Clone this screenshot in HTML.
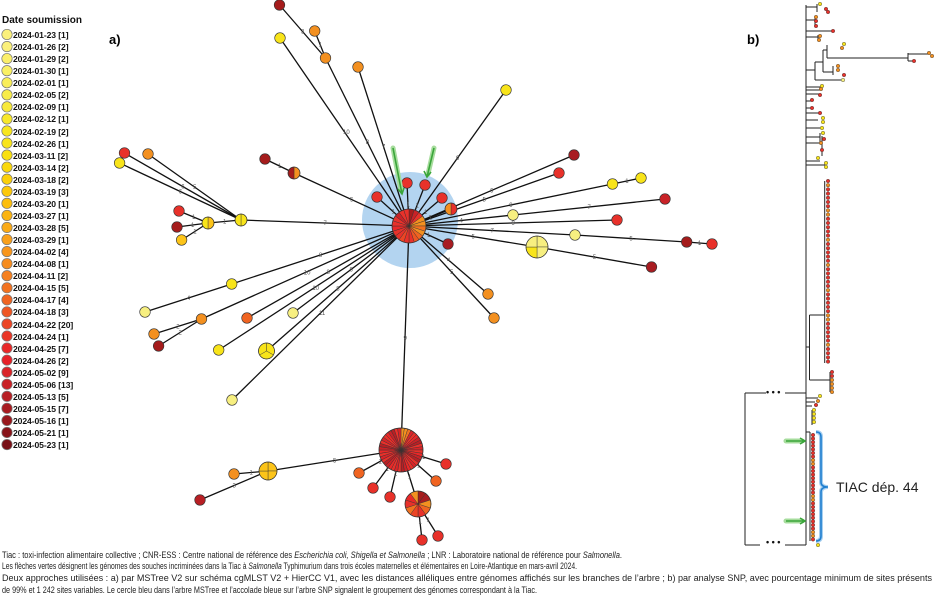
<!DOCTYPE html>
<html><head><meta charset="utf-8">
<style>
html,body{margin:0;padding:0;background:#fff;}
body{width:934px;height:602px;overflow:hidden;position:relative;font-family:"Liberation Sans",sans-serif;}
svg{position:absolute;left:0;top:0;}
.cap{font-size:9.6px;fill:#222;}
.el{font-size:6px;fill:#555;}
</style></head><body>
<svg id="s" width="934" height="602" viewBox="0 0 934 602" xmlns="http://www.w3.org/2000/svg">
<text x="2" y="23" style="font-size:10px;font-weight:bold" fill="#111">Date soumission</text>
<g id="leg"></g>
<text x="109" y="44" style="font-size:13px;font-weight:bold">a)</text>
<text x="747" y="44" style="font-size:13px;font-weight:bold">b)</text>
<circle cx="410" cy="220" r="48" fill="#b3d4f0"/>
<g id="edges" stroke="#111" stroke-width="1.3"></g>
<g id="labels"></g>
<g id="nodes" stroke="#333" stroke-width="0.6"></g>
<g id="tree" stroke="#222" stroke-width="1" fill="none"></g>
<g id="tdots" stroke="#333" stroke-width="0.4"></g>
<text x="766" y="395" style="font-size:9px;font-weight:bold" fill="#111">• • •</text>
<text x="766" y="545" style="font-size:9px;font-weight:bold" fill="#111">• • •</text>
<path d="M816 432 Q821 432 821 437 L821 482 Q821 487 828 487 Q821 487 821 492 L821 536 Q821 541 816 541" stroke="#a8d0f0" stroke-width="4" fill="none"/>
<path d="M816 432 Q821 432 821 437 L821 482 Q821 487 828 487 Q821 487 821 492 L821 536 Q821 541 816 541" stroke="#1f7fd0" stroke-width="1.6" fill="none"/>
<text x="836" y="492" style="font-size:14px" fill="#222">TIAC dép. 44</text>
<g stroke="#a6dc9c" stroke-width="5" stroke-linecap="round" fill="none">
<line x1="786" y1="441" x2="802" y2="441"/><line x1="786" y1="521" x2="802" y2="521"/>
<line x1="393" y1="148" x2="401" y2="190"/><line x1="434" y1="148" x2="428" y2="174"/>
</g>
<g stroke="#3aa53a" stroke-width="1.6" fill="none">
<path d="M786 441 L805 441 M800 438 L805 441 L800 444"/>
<path d="M786 521 L805 521 M800 518 L805 521 L800 524"/>
<path d="M393 148 L402 194 M398 189 L402 194 L404 188"/>
<path d="M434 148 L427 177 M424 171 L427 177 L431 172"/>
</g>
<text class="cap" x="2" y="558" textLength="620" lengthAdjust="spacingAndGlyphs">Tiac : toxi-infection alimentaire collective ; CNR-ESS : Centre national de référence des <tspan font-style="italic">Escherichia coli, Shigella et Salmonella</tspan> ; LNR : Laboratoire national de référence pour <tspan font-style="italic">Salmonella</tspan>.</text>
<text class="cap" x="2" y="569" textLength="575" lengthAdjust="spacingAndGlyphs">Les flèches vertes désignent les génomes des souches incriminées dans la Tiac à <tspan font-style="italic">Salmonella</tspan> Typhimurium dans trois écoles maternelles et élémentaires en Loire-Atlantique en mars-avril 2024.</text>
<text class="cap" x="2" y="581" textLength="930" lengthAdjust="spacingAndGlyphs">Deux approches utilisées : a) par MSTree V2 sur schéma cgMLST V2 + HierCC V1, avec les distances alléliques entre génomes affichés sur les branches de l’arbre ; b) par analyse SNP, avec pourcentage minimum de sites présents</text>
<text class="cap" x="2" y="593" textLength="535" lengthAdjust="spacingAndGlyphs">de 99% et 1 242 sites variables. Le cercle bleu dans l’arbre MSTree et l’accolade bleue sur l’arbre SNP signalent le groupement des génomes correspondant à la Tiac.</text>
</svg>
<div style="position:absolute;left:13px;top:29px;font-size:8.6px;font-weight:bold;line-height:12.06px;color:#111;letter-spacing:-0.1px">
2024-01-23 [1]<br>2024-01-26 [2]<br>2024-01-29 [2]<br>2024-01-30 [1]<br>2024-02-01 [1]<br>2024-02-05 [2]<br>2024-02-09 [1]<br>2024-02-12 [1]<br>2024-02-19 [2]<br>2024-02-26 [1]<br>2024-03-11 [2]<br>2024-03-14 [2]<br>2024-03-18 [2]<br>2024-03-19 [3]<br>2024-03-20 [1]<br>2024-03-27 [1]<br>2024-03-28 [5]<br>2024-03-29 [1]<br>2024-04-02 [4]<br>2024-04-08 [1]<br>2024-04-11 [2]<br>2024-04-15 [5]<br>2024-04-17 [4]<br>2024-04-18 [3]<br>2024-04-22 [20]<br>2024-04-24 [1]<br>2024-04-25 [7]<br>2024-04-26 [2]<br>2024-05-02 [9]<br>2024-05-06 [13]<br>2024-05-13 [5]<br>2024-05-15 [7]<br>2024-05-16 [1]<br>2024-05-21 [1]<br>2024-05-23 [1]
</div>
<script>
const NS="http://www.w3.org/2000/svg";
function el(p,t,a){const e=document.createElementNS(NS,t);for(const k in a)e.setAttribute(k,a[k]);p.appendChild(e);return e;}
const C=["#fbf07c","#fbf07a","#fbef6a","#faf065","#f9ee5a","#f8ec4a","#f8e93a","#f8e82a","#f8e61e","#f8e41a","#f9e010","#fad80c","#fbd00a","#fcc80a","#fcbe0c","#fbb412","#faaa16","#f9a01a","#f8961c","#f68c1e","#f5801f","#f27220","#f06421","#ee5522","#ec4524","#ea3626","#e92828","#e62128","#d92328","#c92227","#b81f24","#a81c21","#98181d","#88141a","#781016"];
const leg=document.getElementById('leg');
C.forEach((c,i)=>el(leg,'circle',{cx:7,cy:34.5+i*12.06,r:5.2,fill:c,stroke:'#777','stroke-width':0.7}));
const R="#e8312a",DR="#a51c1c",O="#f39020",Y="#f8e41a",LY="#f7ef80",YO="#fcc419",RO="#f06421";
const H=[409,226],G=[401,450];
const E=[
[[325.5,58],H,8],[[279.5,5],[325.5,58],3],[[314.7,31],[325.5,58],1],[[280,38],H,10],[[358,67],H,7],[[506,90],H,9],
[[407,183],H,1],[[425,185],H,1],[[377,197],H,1],[[442,198],H,1],[[451,209],H,1],
[[294,173],H,5],[[265,159],[294,173],1],[[241,220],H,7],[[124.5,153],[241,220],6],[[148,154],[241,220],5],[[119.6,163],[241,220],6],
[[208,223],[241,220],1],[[179,211],[208,223],1],[[177,227],[208,223],1],[[181.6,240],[208,223],1],
[[574,155],H,6],[[559,173],H,5],[[612.5,184],H,9],[[641,178],[612.5,184],1],[[513,215],H,4],[[665,199],[513,215],7],
[[617,220],H,9],[[575,235],H,7],[[686.7,242],[575,235],5],[[712,244],[686.7,242],1],[[537,247],H,5],[[651.5,267],[537,247],5],[[448,244],H,1],
[[488,294],H,4],[[494,318],H,5],
[[231.7,284],H,8],[[145,312],[231.7,284],4],[[201.5,319],H,10],[[154,334],[201.5,319],2],[[158.6,346],[201.5,319],2],
[[247,318],H,8],[[293,313],H,6],[[218.7,350],H,10],[[266.5,351],H,8],[[232,400],H,11],
[G,H,9],
[[268,471],G,5],[[234,474],[268,471],1],[[200,500],[268,471],3],[[359,473],G,1],[[373,488],G,1],[[390,497],G,1],[[446,464],G,1],[[436,481],G,1],
[[418,504],G,1],[[422,540],[418,504],1],[[438,536],[418,504],1]];
const eg=document.getElementById('edges'),lb=document.getElementById('labels');
E.forEach(([a,b,l])=>{el(eg,'line',{x1:a[0],y1:a[1],x2:b[0],y2:b[1]});
 const t=el(lb,'text',{x:(a[0]+b[0])/2-1.5,y:(a[1]+b[1])/2+2,class:'el'});t.textContent=l;});
const N=[[279.5,5,DR],[314.7,31,O],[280,38,Y],[325.5,58,O],[358,67,O],[506,90,Y],
[407,183,R],[425,185,R],[377,197,R],[442,198,R],[265,159,DR],
[124.5,153,R],[148,154,O],[119.6,163,Y],[179,211,R],[177,227,DR],[181.6,240,YO],
[574,155,C[31]],[559,173,R],[612.5,184,Y],[641,178,Y],[665,199,C[29]],[513,215,LY],[617,220,R],[575,235,LY],[686.7,242,DR],[712,244,R],[651.5,267,C[31]],[448,244,C[31]],
[488,294,O],[494,318,O],[231.7,284,Y],[145,312,LY],[201.5,319,O],[154,334,O],[158.6,346,DR],[247,318,RO],[293,313,LY],[218.7,350,Y],[232,400,LY],
[234,474,O],[200,500,C[30]],[359,473,RO],[373,488,R],[390,497,R],[446,464,R],[436,481,RO],[422,540,R],[438,536,R]];
const ng=document.getElementById('nodes');
N.forEach(n=>el(ng,'circle',{cx:n[0],cy:n[1],r:5.3,fill:n[2]}));
function pie(cx,cy,r,cols){const n=cols.length;for(let i=0;i<n;i++){const a0=-Math.PI/2+i*2*Math.PI/n,a1=a0+2*Math.PI/n;
 const p=`M${cx} ${cy}L${cx+r*Math.cos(a0)} ${cy+r*Math.sin(a0)}A${r} ${r} 0 0 1 ${cx+r*Math.cos(a1)} ${cy+r*Math.sin(a1)}Z`;
 el(ng,'path',{d:p,fill:cols[i],stroke:'#333','stroke-width':0.4});}
 el(ng,'circle',{cx:cx,cy:cy,r:r,fill:'none',stroke:'#333','stroke-width':0.7});}
pie(H[0],H[1],17,[DR,C[29],R,O,O,C[21],O,C[22],C[23],R,R,C[24],R,R,C[26],R,R,C[29],R,R]);
let gc=[];for(let i=0;i<40;i++)gc.push([C[29],C[30],R,C[28],R,C[26]][i%6]);gc[0]=O;gc[1]=O;gc[2]=C[21];
pie(G[0],G[1],22,gc);
pie(418,504,13,[DR,C[31],O,C[22],R,C[24],C[21],R,C[26],O]);
pie(451,209,6,[R,O]);pie(294,173,6,[O,DR]);pie(241,220,6,[Y,Y]);pie(208,223,6,[YO,Y]);
pie(537,247,11,[LY,LY,Y,LY]);pie(266.5,351,8,[Y,Y,Y]);pie(268,471,9,[YO,YO,YO,YO]);
const tg=document.getElementById('tree');let d="";
function L(x1,y1,x2,y2){d+=`M${x1} ${y1}L${x2} ${y2}`;}
L(806,5,806,545);L(745,393,766,393);L(785,393,806,393);L(745,393,745,545);L(745,545,760,545);L(785,545,806,545);
L(806,7,817,7);L(817,4,817,12);L(806,20,815,20);L(815,17,815,26);L(806,31,833,31);L(806,37,818,37);L(818,35,818,40);
L(806,70,815,70);L(815,62,815,80);L(815,62,823,62);L(823,50,823,72);L(823,50,827,50);L(827,45,827,58);L(827,58,908,58);L(908,53,908,61);L(908,54,928,54);L(908,61,913,61);
L(823,72,833,72);L(833,66,833,75);L(815,80,843,80);L(806,87,822,87);L(806,90,821,90);L(806,94,820,94);L(806,101,812,101);L(806,108,812,108);L(806,113,820,113);
L(806,120,818,120);L(806,128,823,128);L(806,137,820,137);L(820,133,820,143);L(806,143,822,143);L(822,136,822,156);L(806,161,820,161);L(806,165,825,165);
L(806,347,809.5,347);L(809.5,315,809.5,380);L(809.5,315,824.7,315);L(824.7,181,824.7,363);L(809.5,380,830,380);L(830,372,830,392);
L(806,398,818,398);L(806,402,815,402);L(806,406,812,406);L(812,410,812,425);L(806,432,810,432);L(810,432,810,541);
el(tg,'path',{d:d});
const td=document.getElementById('tdots');
function dot(x,y,c){el(td,'circle',{cx:x,cy:y,r:1.8,fill:c});}
[[820,4,Y],[826,9,R],[828,12,R],[816,17,O],[816,21,R],[816,26,R],[833,31,R],[820,36,O],[819,40,O],[844,44,Y],[842,48,O],[929,53,O],[932,56,O],[914,61,R],[838,66,O],[838,70,O],[844,75,R],[843,80,LY],
[822,86,Y],[821,89,O],[820,95,R],[812,100,R],[812,108,R],[820,113,R],[823,118,Y],[823,122,Y],[822,128,Y],[823,133,Y],[824,139,R],[821,143,O],[822,150,R],[818,158,Y],[826,163,Y],[826,167,Y]].forEach(p=>dot(...p));
for(let y=181;y<=363;y+=4.2)dot(828,y,(Math.round(y)%5==0)?O:R);
for(let y=372;y<=392;y+=4)dot(832,y,y<380?R:O);
dot(820,396,Y);dot(818,401,O);dot(816,405,R);for(let y=410;y<=425;y+=4)dot(814,y,Y);
for(let y=435;y<=541;y+=3.6)dot(813,y,(Math.round(y)%4==0)?O:R);
dot(818,545,Y);
</script>
</body></html>
